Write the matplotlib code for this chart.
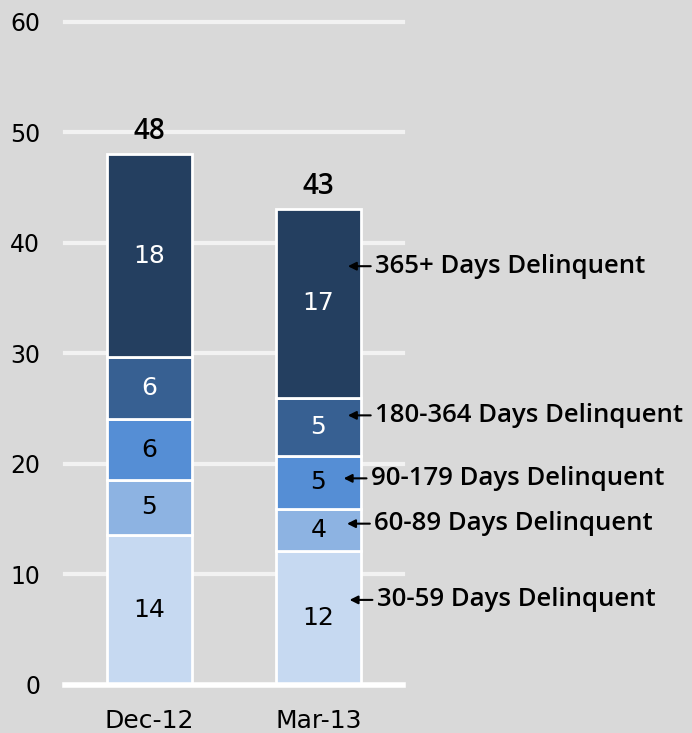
import numpy as np
import matplotlib
matplotlib.use("Agg")
import matplotlib.pyplot as plt

plt.rcParams['font.family'] = ['DejaVu Sans']

# ---- data ----
periods = ['Dec-12', 'Mar-13']
categories = ['30-59 Days Delinquent', '60-89 Days Delinquent', '90-179 Days Delinquent',
              '180-364 Days Delinquent', '365+ Days Delinquent']
values = {
    '30-59 Days Delinquent': [13.6, 12.1],
    '60-89 Days Delinquent': [4.95, 3.85],
    '90-179 Days Delinquent': [5.5, 4.8],
    '180-364 Days Delinquent': [5.6, 5.25],
    '365+ Days Delinquent': [18.4, 17.1],
}
labels = {
    '30-59 Days Delinquent': ['14', '12'],
    '60-89 Days Delinquent': ['5', '4'],
    '90-179 Days Delinquent': ['6', '5'],
    '180-364 Days Delinquent': ['6', '5'],
    '365+ Days Delinquent': ['18', '17'],
}
totals = ['48', '43']
# annotation y (data units) for each category label on the right
annot_y = [7.7, 14.6, 18.7, 24.4, 37.9]
annot_x = [1.345, 1.33, 1.31, 1.335, 1.335]

colors = ['#c6d9f1', '#8db3e2', '#558ed5', '#376092', '#243f60']
text_colors = ['black', 'black', 'black', 'white', 'white']

fig = plt.figure(figsize=(6.92, 7.33), dpi=100)
fig.patch.set_facecolor('#d9d9d9')
ax = fig.add_axes([0.094, 0.0655, 0.488, 0.9045])
ax.set_facecolor('#d9d9d9')

x = np.arange(len(periods))
bottom = np.zeros(len(periods))
for cat, c, tc in zip(categories, colors, text_colors):
    v = np.array(values[cat])
    ax.bar(x, v, bottom=bottom, width=0.5, color=c, edgecolor='white',
           linewidth=2, zorder=3)
    for i in range(len(periods)):
        ax.text(x[i], bottom[i] + v[i] / 2, labels[cat][i], ha='center', va='center',
                fontsize=18, color=tc, zorder=4)
    bottom += v

for i in range(len(periods)):
    ax.text(x[i], bottom[i] + 0.7, totals[i], ha='center', va='bottom',
            fontsize=20, fontweight='semibold', family=['Open Sans', 'DejaVu Sans'],
            color='black')

# right-hand annotations pointing at the Mar-13 bar
for cat, yy, xx in zip(categories, annot_y, annot_x):
    ax.annotate(cat, xy=(xx - 0.16, yy), xytext=(xx, yy), ha='left', va='center',
                fontsize=18.5, fontweight='semibold', family=['Open Sans', 'DejaVu Sans'],
                annotation_clip=False,
                arrowprops=dict(arrowstyle='-|>', color='black', lw=1.5,
                                mutation_scale=12, shrinkA=1, shrinkB=0))

ax.set_xlim(-0.5, 1.5)
ax.set_ylim(0, 60)
ax.set_yticks(range(0, 61, 10))
ax.set_xticks(x)
ax.set_xticklabels(periods)
ax.tick_params(axis='both', length=0, labelsize=17, colors='black')
ax.tick_params(axis='x', pad=17, labelsize=18)
ax.tick_params(axis='y', pad=18)
for s in ax.spines.values():
    s.set_visible(False)
for yv in range(10, 61, 10):
    ax.axhline(yv, color='#f2f2f2', lw=3, zorder=1, clip_on=False)
ax.axhline(0, color='white', lw=4, zorder=5, clip_on=False)

fig.savefig('out.png', dpi=100, facecolor=fig.get_facecolor())
